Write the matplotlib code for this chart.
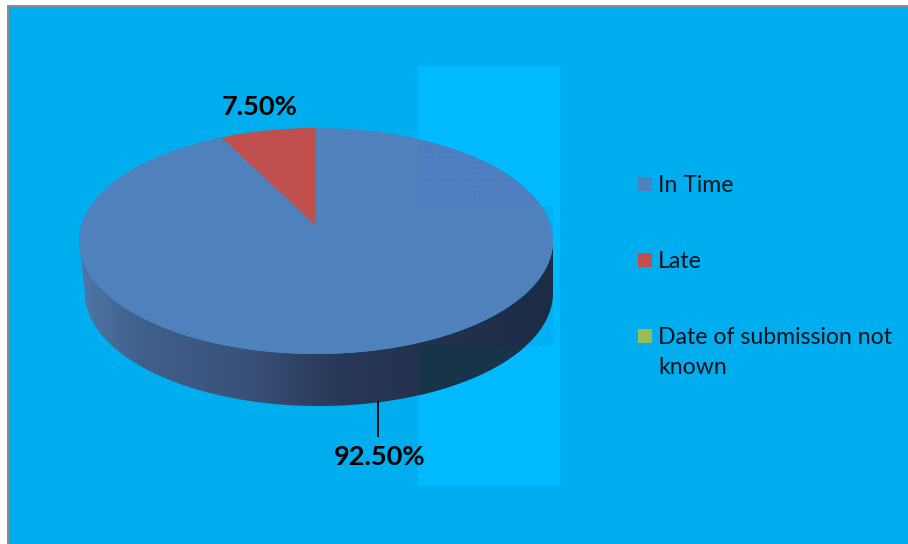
import numpy as np
import matplotlib
matplotlib.use("Agg")
import matplotlib.pyplot as plt
from matplotlib.patches import Ellipse, Polygon, Rectangle

plt.rcParams['font.family'] = ['Lato', 'DejaVu Sans']

categories = ['In Time', 'Late', 'Date of submission not\nknown']
shares = [92.5, 7.5, 0.0]
share_labels = ['92.50%', '7.50%']
colors = ['#4F81BD', '#C0504D', '#9BBB59']

W, H = 908, 544
BG = '#00AEEF'
PANEL = '#00B9FF'

fig = plt.figure(figsize=(W / 100, H / 100), dpi=100, facecolor='white')

# whole figure in pixel coordinates, y going down
ax = fig.add_axes([0, 0, 1, 1])
ax.set_xlim(0, W)
ax.set_ylim(H, 0)
ax.axis('off')

ax.add_patch(Rectangle((7, 5), W - 7, H - 5, fc='#8C8C8C', ec='none', zorder=0))
ax.add_patch(Rectangle((8.5, 6.5), W - 8, H - 6, fc=BG, ec='none', zorder=0.5))
ax.add_patch(Rectangle((418, 66), 142, 420, fc=PANEL, ec='none', zorder=1))
ax.add_patch(Rectangle((418, 206), 135, 140, fc='#00B0F2', ec='none', zorder=1.1))

# side wall of the disc
t = np.linspace(0, np.pi, 200)
top_x = 316 + 237 * np.cos(t)
top_y = 241 + 113 * np.sin(t)
low_x = 319 + 234 * np.cos(t)
low_y = 293 + 113 * np.sin(t)
wall = Polygon(np.r_[np.c_[low_x, low_y], np.c_[top_x[::-1], top_y[::-1]]],
               fc='none', ec='none', transform=ax.transData)
ax.add_patch(wall)
stops = np.array([85, 140, 240, 340, 418, 553])
rgb = np.array([[78, 116, 165], [64, 96, 140], [58, 82, 122],
                [40, 56, 88], [36, 50, 78], [28, 44, 70]]) / 255
xs = np.arange(80, 556)
grad = np.stack([np.interp(xs, stops, rgb[:, i]) for i in range(3)], axis=1)[None, :, :]
im = ax.imshow(grad, extent=(80, 555, 410, 236), aspect='auto', zorder=2)
im.set_clip_path(wall)
ax.set_xlim(0, W)
ax.set_ylim(H, 0)
tint = Rectangle((418, 346), 140, 70, fc='#17344A', ec='none', zorder=2.1)
ax.add_patch(tint)
tint.set_clip_path(wall)

# leader line and legend
ax.plot([378, 378], [402, 436], color='black', lw=1.3, zorder=2.2)
legend_y = [184, 260, 336]
for name, c, y in zip(categories, colors, legend_y):
    ax.add_patch(Rectangle((638, y - 7), 14, 14, fc=c, ec='none', zorder=3))
    ax.text(658, y - 9, name, fontsize=16.6, color='#04121C', va='top', ha='left',
            linespacing=1.55, zorder=3)

# top of the disc
pie_ax = fig.add_axes([(316 - 237) / W, 1 - (241 + 113) / H, 474 / W, 226 / H])
wedges, _ = pie_ax.pie(shares, colors=colors, startangle=90, counterclock=False,
                       center=(0, 0.133), radius=1.2)
pie_ax.set_aspect('auto')
pie_ax.set_xlim(-1, 1)
pie_ax.set_ylim(-1, 1)
outline = Ellipse((0, 0), 2, 2, fc='none', ec='none', transform=pie_ax.transData)
pie_ax.add_patch(outline)
for w in wedges:
    w.set_clip_on(True)
    w.set_clip_path(outline)
    w.set_linewidth(0)

# faint text-like rows showing through the disc
for y in [146, 151, 157, 162, 168, 174, 180, 186, 192, 197, 203]:
    row_x = (418 - 316) / 237
    row_y = (241 - y) / 113
    line, = pie_ax.plot([row_x, 1], [row_y, row_y], color='#4A78C8', lw=2.6,
                        ls=(0, (5, 0.6)), alpha=0.45)
    line.set_clip_path(outline)

ax_top = fig.add_axes([0, 0, 1, 1])
ax_top.set_xlim(0, W)
ax_top.set_ylim(H, 0)
ax_top.axis('off')
ax_top.text(260, 107, share_labels[1], fontsize=19.6, fontweight='bold', color='black',
            ha='center', va='center')
ax_top.text(380, 457, share_labels[0], fontsize=19.6, fontweight='bold', color='black',
            ha='center', va='center')

fig.savefig('out.png', dpi=100, facecolor='white')
